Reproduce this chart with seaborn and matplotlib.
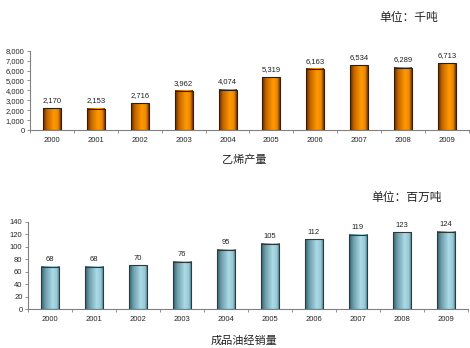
import numpy as np
import pandas as pd
import matplotlib
matplotlib.use("Agg")
import matplotlib.pyplot as plt
import seaborn as sns
from matplotlib.colors import LinearSegmentedColormap
from matplotlib.patches import Rectangle
from matplotlib.ticker import FuncFormatter, MultipleLocator

years = ["2000", "2001", "2002", "2003", "2004", "2005", "2006", "2007", "2008", "2009"]
ethylene = [2170, 2153, 2716, 3962, 4074, 5319, 6163, 6534, 6289, 6713]
oil_sales = [68, 68, 70, 76, 95, 105, 112, 119, 123, 124]
ethylene_labels = ["2,170", "2,153", "2,716", "3,962", "4,074", "5,319", "6,163", "6,534", "6,289", "6,713"]
oil_labels = [str(v) for v in oil_sales]

sns.set_style("white")
plt.rcParams['font.family'] = ['Liberation Sans', 'Noto Sans CJK SC', 'DejaVu Sans']

fig = plt.figure(figsize=(4.7, 3.48), dpi=100)
ax1 = fig.add_axes([0.0638, 0.6264, 0.934, 0.228])
ax2 = fig.add_axes([0.0596, 0.112, 0.936, 0.251])

orange_cmap = LinearSegmentedColormap.from_list(
    "org", [(0, "#5e2c00"), (0.22, "#c46400"), (0.62, "#ff9a00"), (0.85, "#f08800"), (1, "#6e3600")])
blue_cmap = LinearSegmentedColormap.from_list(
    "blu", [(0, "#35606c"), (0.22, "#6c9ca8"), (0.62, "#acdbe8"), (0.85, "#96c6d4"), (1, "#44707c")])


def draw(ax, values, labels, cmap, edge, ymax, step, fmt, label_off):
    df = pd.DataFrame({"year": years, "v": values})
    sns.barplot(data=df, x="year", y="v", ax=ax, color="#ff9900", width=0.41)
    ax.set_xlim(-0.5, len(years) - 0.5)
    ax.set_ylim(0, ymax)
    grad = np.linspace(0, 1, 64).reshape(1, -1)
    for p, lab in zip(list(ax.patches), labels):
        x0, y0, w, h = p.get_x(), p.get_y(), p.get_width(), p.get_height()
        p.set_visible(False)
        ax.imshow(grad, extent=[x0, x0 + w, y0, y0 + h], aspect="auto", cmap=cmap,
                  zorder=2, interpolation="bilinear")
        ax.add_patch(Rectangle((x0, y0), w, h, fill=False, edgecolor=edge, linewidth=0.8, zorder=3))
        ax.text(x0 + w / 2, y0 + h + label_off, lab, ha="center", va="bottom", fontsize=5.5, color="#222222")
    ax.set_xlim(-0.5, len(years) - 0.5)
    ax.set_ylim(0, ymax)
    ax.set_aspect("auto")
    ax.yaxis.set_major_locator(MultipleLocator(step))
    ax.yaxis.set_major_formatter(FuncFormatter(fmt))
    ax.set_xlabel("")
    ax.set_ylabel("")
    for s in ["top", "right"]:
        ax.spines[s].set_visible(False)
    for s in ["left", "bottom"]:
        ax.spines[s].set_color("#808080")
        ax.spines[s].set_linewidth(0.8)
    ax.tick_params(axis="y", labelsize=5.5, length=2.5, width=0.6, color="#808080", pad=1.5, left=True)
    ax.tick_params(axis="x", labelsize=5.5, length=0, pad=5)
    ax.set_xticks(range(len(years)))
    ax.set_xticks(np.arange(-0.5, len(years), 1), minor=True)
    ax.tick_params(axis="x", which="minor", length=2, width=0.6, color="#808080", bottom=True)


draw(ax1, ethylene, ethylene_labels, orange_cmap, "#3a1c00", 8000, 1000,
     lambda v, p: f"{int(v):,}", 420)
draw(ax2, oil_sales, oil_labels, blue_cmap, "#2a3c40", 140, 20,
     lambda v, p: f"{int(v)}", 5.5)

fig.text(0.87, 1 - 18 / 348, "单位：千吨", ha="center", va="center", fontsize=8.5, color="#222222")
fig.text(0.519, 1 - 160 / 348, "乙烯产量", ha="center", va="center", fontsize=8, color="#222222")
fig.text(0.865, 1 - 198 / 348, "单位：百万吨", ha="center", va="center", fontsize=8.5, color="#222222")
fig.text(0.519, 1 - 340 / 348, "成品油经销量", ha="center", va="center", fontsize=8, color="#222222")

fig.savefig("out.png", dpi=100)
